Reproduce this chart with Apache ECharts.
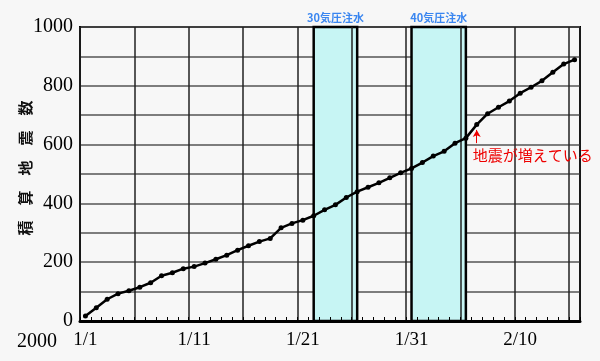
<!DOCTYPE html>
<html><head><meta charset="utf-8">
<script src="https://cdn.jsdelivr.net/npm/echarts@6/dist/echarts.min.js"></script>
<style>html,body{margin:0;padding:0;background:#f7f7f7}#c{width:600px;height:361px}</style>
</head><body><div id="c"></div>
<script>
const dates = ['1/1','1/2','1/3','1/4','1/5','1/6','1/7','1/8','1/9','1/10',
  '1/11','1/12','1/13','1/14','1/15','1/16','1/17','1/18','1/19','1/20',
  '1/21','1/22','1/23','1/24','1/25','1/26','1/27','1/28','1/29','1/30',
  '1/31','2/1','2/2','2/3','2/4','2/5','2/6','2/7','2/8','2/9',
  '2/10','2/11','2/12','2/13','2/14','2/15'];
const quakes = [17,45,74,93,103,115,130,154,164,178,
  185,197,210,224,241,256,270,281,317,332,
  343,358,378,395,420,440,455,470,487,504,
  519,539,561,577,605,622,668,705,727,748,
  775,795,817,846,874,889];
const injections = [
  {label:'30気圧注水', from:'1/22', to:'1/26'},
  {label:'40気圧注水', from:'1/31', to:'2/5'}
];
const note = {text:'地震が増えている', date:'2/6', value:565, arrowFrom:605, arrowTo:650};
const yTickLabels = [0,200,400,600,800,1000];

const chart = echarts.init(document.getElementById('c'), null, {renderer:'canvas'});
chart.setOption({
  backgroundColor:'#f7f7f7',
  animation:false,
  grid:{left:80, right:20, top:27, bottom:40, show:true, borderColor:'#000', borderWidth:2, backgroundColor:'transparent'},
  graphic:[{type:'text', left:17, top:332, style:{text:'2000', font:'20px "Liberation Serif"', fill:'#000'}}],
  xAxis:{
    type:'category', data:dates, boundaryGap:true, z:3,
    axisLine:{lineStyle:{color:'#000', width:3}},
    axisTick:{show:true, inside:true, interval:0, length:4, lineStyle:{color:'#000', width:1}},
    axisLabel:{interval:9, margin:10, color:'#000', fontFamily:'Liberation Serif', fontSize:19},
    splitLine:{show:true, interval:4, lineStyle:{color:'#222', width:1.5}}
  },
  yAxis:{
    type:'value', min:0, max:1000, interval:100,
    name:'積　算　地　震　数', nameLocation:'middle', nameRotate:90, nameGap:47, nameMoveOverlap:false,
    nameTextStyle:{fontFamily:'Noto Sans CJK JP', fontWeight:'bold', fontSize:15, color:'#111', padding:[0,0,0,12]},
    axisLine:{show:true, lineStyle:{color:'#000', width:2}},
    axisTick:{show:false},
    axisLabel:{margin:7, color:'#000', fontFamily:'Liberation Serif', fontSize:20,
      formatter:v=>yTickLabels.includes(v)?String(v):''},
    splitLine:{show:true, lineStyle:{color:'#555', width:1.5}}
  },
  series:[{
    type:'line', data:quakes, symbol:'circle', symbolSize:5,
    lineStyle:{color:'#000', width:2.5}, itemStyle:{color:'#000'},
    markArea:{
      silent:true,
      itemStyle:{color:'#c7f5f4', borderColor:'#000', borderWidth:2.5},
      label:{show:true, position:'top', distance:2, color:'#3a86f0', fontFamily:'Noto Sans CJK JP', fontWeight:'bold', fontSize:11},
      data:injections.map(r=>[{name:r.label, xAxis:r.from, yAxis:1000},{xAxis:r.to, yAxis:0}])
    },
    markLine:{
      silent:true, symbol:['none','arrow'], symbolSize:[6,7],
      lineStyle:{color:'#e00', width:1, type:'solid'}, label:{show:false},
      data:[[{coord:[note.date, note.arrowFrom]},{coord:[note.date, note.arrowTo]}]]
    },
    markPoint:{
      silent:true, symbol:'circle', symbolSize:0,
      label:{show:true, position:'inside', align:'left', offset:[-4,0], color:'#e00', fontFamily:'Noto Sans CJK JP', fontSize:15, formatter:()=>note.text},
      data:[{coord:[note.date, note.value]}]
    }
  }]
});
</script></body></html>
